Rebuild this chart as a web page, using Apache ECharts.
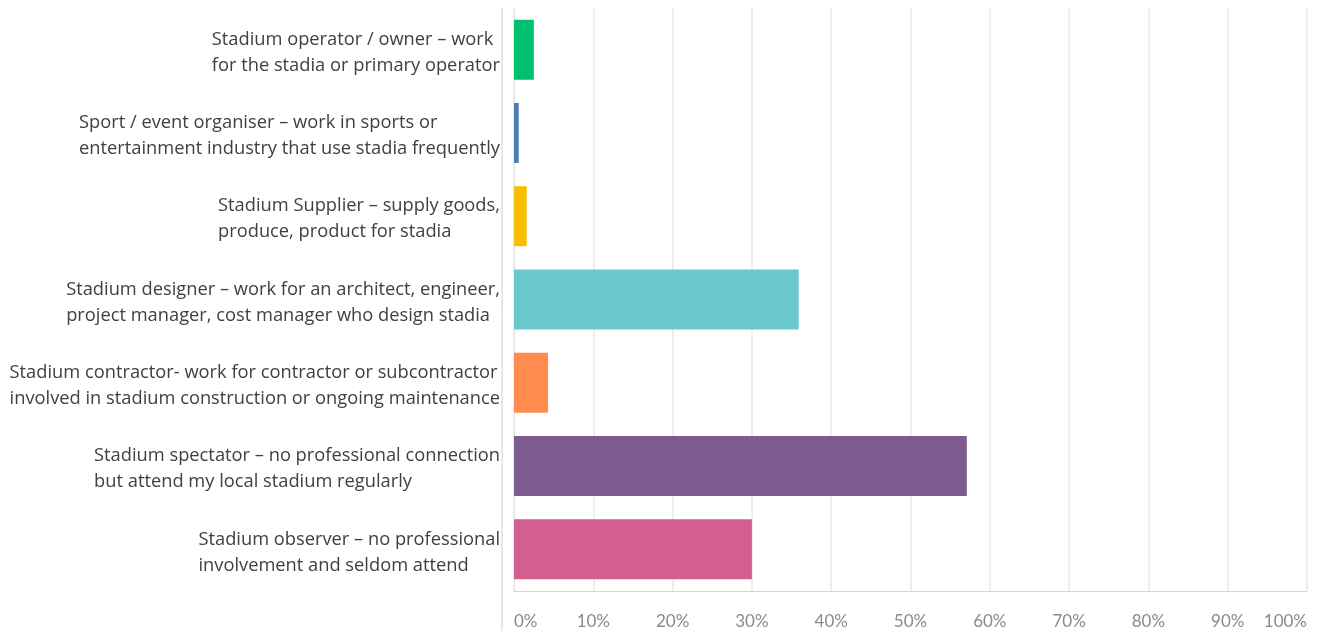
<!DOCTYPE html>
<html>
<head>
<meta charset="utf-8">
<script src="https://cdn.jsdelivr.net/npm/echarts@6/dist/echarts.min.js"></script>
<style>
html,body{margin:0;padding:0;background:#fff;}
#chart{width:1325px;height:631px;}
</style>
</head>
<body>
<div id="chart"></div>
<script>
var categories = [
  "Stadium operator / owner \u2013 work\nfor the stadia or primary operator",
  "Sport / event organiser \u2013 work in sports or\nentertainment industry that use stadia frequently",
  "Stadium Supplier \u2013 supply goods,\nproduce, product for stadia",
  "Stadium designer \u2013 work for an architect, engineer,\nproject manager, cost manager who design stadia",
  "Stadium contractor- work for contractor or subcontractor\ninvolved in stadium construction or ongoing maintenance",
  "Stadium spectator \u2013 no professional connection\nbut attend my local stadium regularly",
  "Stadium observer \u2013 no professional\ninvolvement and seldom attend"
];
var values = [2.5, 0.6, 1.6, 35.9, 4.3, 57.1, 30.0];
var barColors = ["#00bf6f", "#507cb6", "#f9be00", "#6bc8cd", "#ff8b4f", "#7d5b8f", "#d25f90"];
var tickValues = [0, 10, 20, 30, 40, 50, 60, 70, 80, 90, 100];

var chart = echarts.init(document.getElementById('chart'), null, {renderer: 'canvas'});
chart.setOption({
  animation: false,
  backgroundColor: '#ffffff',
  grid: {left: 514, right: 18, top: 8, bottom: 40, containLabel: false},
  xAxis: {
    type: 'value',
    min: tickValues[0], max: tickValues[tickValues.length - 1], interval: 10,
    axisLine: {show: true, lineStyle: {color: '#d6d6d6', width: 1}},
    axisTick: {show: false},
    splitLine: {show: true, lineStyle: {color: '#eeeeee', width: 2}},
    axisLabel: {
      color: '#8a8a8a', fontSize: 17, fontFamily: 'Lato, sans-serif',
      margin: 22,
      alignMinLabel: 'left', alignMaxLabel: 'right',
      formatter: function (v) { return v + '%'; }
    }
  },
  yAxis: {
    type: 'category',
    inverse: true,
    data: categories,
    axisLine: {show: true, lineStyle: {color: '#e4e4e4', width: 1}},
    axisTick: {show: false},
    splitLine: {show: false},
    axisLabel: {
      margin: 14,
      align: 'right',
      padding: [6, 0, 0, 0],
      formatter: function (v) {
        return v.split('\n').map(function (s) { return '{a|' + s + '}'; }).join('\n');
      },
      rich: {
        a: {align: 'left', color: '#404040', fontSize: 18.3, lineHeight: 26, fontFamily: '"Open Sans", sans-serif'}
      }
    }
  },
  series: [{
    type: 'bar',
    data: values.map(function (v, i) { return {value: v, itemStyle: {color: barColors[i]}}; }),
    barCategoryGap: '28%'
  }],
  graphic: [{
    type: 'line',
    shape: {x1: 502, y1: 8, x2: 502, y2: 631},
    style: {stroke: '#d0d0d0', lineWidth: 1}
  }]
});
</script>
</body>
</html>
